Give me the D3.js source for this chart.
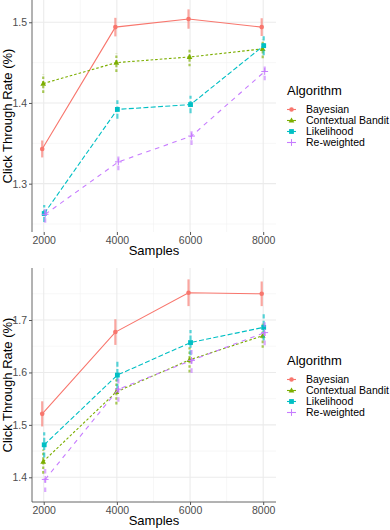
<!DOCTYPE html>
<html>
<head>
<meta charset="utf-8">
<script src="https://cdn.jsdelivr.net/npm/d3@7"></script>
<style>
  html, body { margin: 0; padding: 0; background: #fff; }
  svg { display: block; font-family: "Liberation Sans", Arial, sans-serif; }
</style>
</head>
<body>
<svg id="chart" width="390" height="530"></svg>
<script>
// ---------- DATA ----------
const samples = [2000, 4000, 6000, 8000];
const algorithms = ["Bayesian", "Contextual Bandit", "Likelihood", "Re-weighted"];
const xTicks = [2000, 4000, 6000, 8000];
const xMinorTicks = [3000, 5000, 7000];

// top panel
const topBayesian      = [1.343, 1.494, 1.504, 1.494];
const topBayesianErr   = [0.0105, 0.0115, 0.012, 0.011];
const topContextual    = [1.424, 1.450, 1.457, 1.467];
const topContextualErr = [0.0115, 0.0115, 0.0115, 0.0115];
const topLikelihood    = [1.263, 1.392, 1.398, 1.471];
const topLikelihoodErr = [0.0105, 0.0115, 0.0108, 0.0118];
const topReweighted    = [1.262, 1.327, 1.359, 1.439];
const topReweightedErr = [0.0105, 0.0105, 0.011, 0.011];
const topYTicks = [1.3, 1.4, 1.5];
const topYMinor = [1.25, 1.35, 1.45];

// bottom panel
const botBayesian      = [1.521, 1.677, 1.752, 1.750];
const botBayesianErr   = [0.024, 0.0245, 0.0255, 0.0235];
const botContextual    = [1.430, 1.563, 1.624, 1.670];
const botContextualErr = [0.023, 0.024, 0.024, 0.023];
const botLikelihood    = [1.462, 1.595, 1.657, 1.686];
const botLikelihoodErr = [0.024, 0.026, 0.024, 0.025];
const botReweighted    = [1.396, 1.568, 1.623, 1.676];
const botReweightedErr = [0.024, 0.024, 0.024, 0.024];
const botYTicks = [1.4, 1.5, 1.6, 1.7];
const botYMinor = [1.45, 1.55, 1.65, 1.75];

// ---------- STYLE ----------
const colors = ["#F8766D", "#7CAE00", "#00BFC4", "#C77CFF"];
const dashes = [null, "2.6,2", "5,2.3", "4.6,4.6"];
const shapes = ["circle", "triangle", "square", "plus"];
const dodgePx = [-1.5, -0.5, 0.5, 1.5];

const svg = d3.select("#chart");
const plotLeft = 32, plotRight = 276;
const x = d3.scaleLinear().domain([1680, 8350]).range([plotLeft, plotRight]);

function drawMarker(g, shape, cx, cy, color) {
  if (shape === "circle") {
    g.append("circle").attr("cx", cx).attr("cy", cy).attr("r", 2.3).attr("fill", color);
  } else if (shape === "square") {
    g.append("rect").attr("x", cx - 2.4).attr("y", cy - 2.4).attr("width", 4.8).attr("height", 4.8).attr("fill", color);
  } else if (shape === "triangle") {
    const s = 3.0;
    g.append("path").attr("d", `M${cx},${cy - s}L${cx + s * 0.95},${cy + s * 0.7}L${cx - s * 0.95},${cy + s * 0.7}Z`).attr("fill", color);
  } else {
    const s = 3.4;
    g.append("path").attr("d", `M${cx - s},${cy}H${cx + s}M${cx},${cy - s}V${cy + s}`).attr("stroke", color).attr("stroke-width", 1).attr("fill", "none");
  }
}

function drawPanel(cfg) {
  const y = d3.scaleLinear().domain(cfg.domain).range([cfg.bottom, cfg.top]);
  const g = svg.append("g");

  // gridlines
  const grid = g.append("g");
  cfg.yMinor.forEach(v => grid.append("line").attr("x1", plotLeft).attr("x2", plotRight).attr("y1", y(v)).attr("y2", y(v)).attr("stroke", "#F2F2F2").attr("stroke-width", 0.6));
  xMinorTicks.forEach(v => grid.append("line").attr("x1", x(v)).attr("x2", x(v)).attr("y1", cfg.top).attr("y2", cfg.bottom).attr("stroke", "#F2F2F2").attr("stroke-width", 0.6));
  cfg.yTicks.forEach(v => grid.append("line").attr("x1", plotLeft).attr("x2", plotRight).attr("y1", y(v)).attr("y2", y(v)).attr("stroke", "#EBEBEB").attr("stroke-width", 1.1));
  xTicks.forEach(v => grid.append("line").attr("x1", x(v)).attr("x2", x(v)).attr("y1", cfg.top).attr("y2", cfg.bottom).attr("stroke", "#EBEBEB").attr("stroke-width", 1.1));

  // series
  cfg.series.forEach((s, i) => {
    const sg = g.append("g");
    const pts = samples.map((xv, j) => ({ px: x(xv) + dodgePx[i], v: s.values[j], e: s.errs[j] }));
    // error bars
    pts.forEach(p => {
      sg.append("line").attr("x1", p.px).attr("x2", p.px)
        .attr("y1", y(p.v - p.e)).attr("y2", y(p.v + p.e))
        .attr("stroke", colors[i]).attr("stroke-width", 2.2).attr("stroke-opacity", 0.65)
        .attr("stroke-dasharray", dashes[i]);
    });
    // line
    const line = d3.line().x(p => p.px).y(p => y(p.v));
    sg.append("path").attr("d", line(pts)).attr("fill", "none")
      .attr("stroke", colors[i]).attr("stroke-width", 1.1)
      .attr("stroke-dasharray", dashes[i]);
    pts.forEach(p => drawMarker(sg, shapes[i], p.px, y(p.v), colors[i]));
  });

  // y axis
  const yAxis = d3.axisLeft(y).tickValues(cfg.yTicks).tickSize(3).tickPadding(2).tickFormat(d3.format(".1f"));
  const ya = g.append("g").attr("transform", `translate(${plotLeft},0)`).call(yAxis);
  ya.select(".domain").attr("stroke", "#555").attr("stroke-width", 0.9).attr("d", `M0,${cfg.top}V${cfg.bottom}`);
  ya.selectAll(".tick line").attr("stroke", "#555");
  ya.selectAll(".tick text").attr("fill", "#4D4D4D").attr("font-size", 10.5).attr("font-family", "Liberation Sans, Arial, sans-serif");

  // x axis
  const xAxis = d3.axisBottom(x).tickValues(xTicks).tickSize(3).tickPadding(2).tickFormat(d3.format("d"));
  const xa = g.append("g").attr("transform", `translate(0,${cfg.bottom})`).call(xAxis);
  if (cfg.bottomLine) {
    xa.select(".domain").attr("stroke", "#555").attr("stroke-width", 0.9).attr("d", `M${plotLeft},0H${plotRight}`);
  } else {
    xa.select(".domain").remove();
  }
  xa.selectAll(".tick line").attr("stroke", "#555");
  xa.selectAll(".tick text").attr("fill", "#4D4D4D").attr("font-size", 10.5).attr("font-family", "Liberation Sans, Arial, sans-serif");

  // axis titles
  g.append("text").attr("x", (plotLeft + plotRight) / 2).attr("y", cfg.bottom + 23)
    .attr("text-anchor", "middle").attr("font-size", 13).attr("fill", "#000").text("Samples");
  g.append("text").attr("transform", `translate(12,${(cfg.top + cfg.bottom) / 2}) rotate(-90)`)
    .attr("text-anchor", "middle").attr("font-size", 13).attr("fill", "#000").text("Click Through Rate (%)");

  // legend
  const lg = g.append("g").attr("transform", `translate(287,${cfg.legendY})`);
  lg.append("text").attr("x", 0).attr("y", 0).attr("font-size", 13).attr("fill", "#000").text("Algorithm");
  algorithms.forEach((name, i) => {
    const cy = 15 + i * 11;
    lg.append("line").attr("x1", 0).attr("x2", 9).attr("y1", cy).attr("y2", cy)
      .attr("stroke", colors[i]).attr("stroke-width", 1.1).attr("stroke-dasharray", i === 0 ? null : null);
    drawMarker(lg, shapes[i], 4.5, cy, colors[i]);
    lg.append("text").attr("x", 19).attr("y", cy).attr("dy", "0.35em")
      .attr("font-size", 10.5).attr("fill", "#000").text(name);
  });
}

drawPanel({
  top: 0, bottom: 232, domain: [1.2401, 1.5276],
  yTicks: topYTicks, yMinor: topYMinor, bottomLine: false, legendY: 94.5,
  series: [
    { values: topBayesian, errs: topBayesianErr },
    { values: topContextual, errs: topContextualErr },
    { values: topLikelihood, errs: topLikelihoodErr },
    { values: topReweighted, errs: topReweightedErr }
  ]
});

drawPanel({
  top: 268, bottom: 502, domain: [1.3529, 1.7992],
  yTicks: botYTicks, yMinor: botYMinor, bottomLine: true, legendY: 364.5,
  series: [
    { values: botBayesian, errs: botBayesianErr },
    { values: botContextual, errs: botContextualErr },
    { values: botLikelihood, errs: botLikelihoodErr },
    { values: botReweighted, errs: botReweightedErr }
  ]
});
</script>
</body>
</html>
